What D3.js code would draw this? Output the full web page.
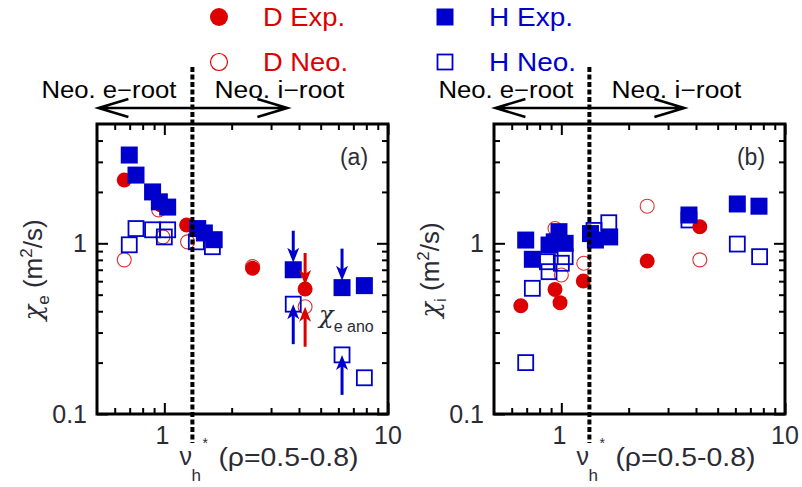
<!DOCTYPE html>
<html>
<head>
<meta charset="utf-8">
<script src="https://cdn.jsdelivr.net/npm/d3@7"></script>
<style>
  body { margin: 0; background: #fff; }
  svg { display: block; font-family: "Liberation Sans", Arial, sans-serif; }
  .chi { font-family: "DejaVu Serif", serif; font-style: italic; }
</style>
</head>
<body>
<svg id="chart" width="802" height="487"></svg>
<script>
// --- data ---
// panel (a): chi_e vs nu_h*
const aDExp = [[0.662, 2.35], [0.966, 1.68], [1.258, 1.28], [2.48, 0.714], [4.26, 0.54]];
const aDNeo = [[0.662, 0.80], [0.943, 1.57], [0.985, 1.09], [1.27, 1.02], [2.48, 0.73], [4.26, 0.425]];
const aHExp = [[0.697, 3.29], [0.747, 2.51], [0.886, 2.0], [0.95, 1.75], [1.035, 1.63], [1.41, 1.22],
  [1.51, 1.15], [1.67, 1.05], [3.77, 0.70], [6.23, 0.55], [7.84, 0.565]];
const aHNeo = [[0.697, 0.98], [0.747, 1.22], [0.886, 1.2], [1.035, 1.2], [1.0, 1.09], [1.39, 1.02],
  [1.64, 0.955], [3.77, 0.44], [6.23, 0.222], [7.84, 0.163]];
// arrows pointing at the anomalous points: [x, y, direction, species]
const aArrows = [[3.77, 0.70, 'down', 'H'], [4.26, 0.54, 'down', 'D'], [6.23, 0.55, 'down', 'H'],
  [3.77, 0.44, 'up', 'H'], [4.26, 0.425, 'up', 'D'], [6.23, 0.222, 'up', 'H']];

// panel (b): chi_i vs nu_h*
const bDExp = [[0.659, 0.431], [0.937, 0.537], [0.987, 0.449], [1.254, 0.601], [2.42, 0.788], [4.16, 1.25]];
const bDNeo = [[0.937, 1.22], [1.0, 0.652], [1.26, 0.764], [2.42, 1.65], [4.16, 0.80]];
const bHExp = [[0.693, 1.045], [0.742, 0.806], [0.881, 0.977], [0.93, 1.02], [0.976, 1.17], [1.04, 1.0],
  [1.35, 1.14], [1.42, 1.045], [1.645, 1.09], [3.72, 1.465], [6.12, 1.70], [7.65, 1.65]];
const bHNeo = [[0.693, 0.2], [0.742, 0.545], [0.866, 0.78], [0.881, 0.682], [1.0, 0.764], [1.04, 0.835],
  [1.40, 1.19], [1.63, 1.32], [3.72, 1.37], [6.12, 0.99], [7.7, 0.835]];

const nuStar = 1.335; // boundary e-root / i-root
const xMajor = [1, 10];
const yMajor = [0.1, 1];
const xMinor = [0.6, 0.7, 0.8, 0.9, 2, 3, 4, 5, 6, 7, 8, 9];
const yMinor = [0.2, 0.3, 0.4, 0.5, 0.6, 0.7, 0.8, 0.9, 2, 3, 4];
const legendLabels = ['D Exp.', 'D Neo.', 'H Exp.', 'H Neo.'];

const RED = '#dd0000';
const BLUE = '#0000cc';
const TXT = '#2b2b35';

const svg = d3.select('#chart');

// Legend
const legendPos = [[219, 17], [219, 62], [445, 17], [445, 62]];
const legendWidths = [82, 85, 84, 87];
legendLabels.forEach((lab, i) => {
  const [cx, cy] = legendPos[i];
  const isD = lab[0] === 'D';
  const filled = lab.includes('Exp');
  const col = isD ? RED : BLUE;
  if (isD) {
    svg.append('circle').attr('cx', cx).attr('cy', cy).attr('r', filled ? 9 : 8.5)
      .attr('fill', filled ? col : 'none').attr('stroke', col).attr('stroke-width', filled ? 0 : 1.2);
  } else {
    const s = filled ? 17 : 15;
    svg.append('rect').attr('x', cx - s / 2).attr('y', cy - s / 2).attr('width', s).attr('height', s)
      .attr('fill', filled ? col : 'none').attr('stroke', col).attr('stroke-width', filled ? 0 : 1.8);
  }
  svg.append('text').attr('x', cx + 44).attr('y', cy + 9).attr('font-size', 25)
    .attr('fill', col).attr('textLength', legendWidths[i]).attr('lengthAdjust', 'spacingAndGlyphs')
    .text(lab);
});

function drawPanel(left, tag, sub, dExp, dNeo, hExp, hNeo, arrows) {
  const x = d3.scaleLog().domain([0.5, 10]).range([left, left + 291]);
  const y = d3.scaleLog().domain([0.1, 5]).range([414, 124]);
  const g = svg.append('g');

  // ticks on all four sides, pointing inward
  const tickSets = [
    [d3.axisBottom(x), `translate(0,414)`, xMinor, xMajor],
    [d3.axisTop(x), `translate(0,124)`, xMinor, xMajor],
    [d3.axisLeft(y), `translate(${left},0)`, yMinor, yMajor],
    [d3.axisRight(y), `translate(${left + 291},0)`, yMinor, yMajor],
  ];
  tickSets.forEach(([ax, tr, minor, major]) => {
    [[minor, 6], [major, 11]].forEach(([vals, len]) => {
      g.append('g').attr('transform', tr)
        .call(ax.tickValues(vals).tickSize(-len).tickFormat(''))
        .call((s) => s.select('.domain').remove())
        .call((s) => s.selectAll('line').attr('stroke', '#000').attr('stroke-width', 2));
    });
  });

  g.append('rect').attr('x', left).attr('y', 124).attr('width', 291).attr('height', 290)
    .attr('fill', 'none').attr('stroke', '#000').attr('stroke-width', 3);

  // tick labels
  xMajor.forEach((v) => {
    g.append('text').attr('x', x(v) - (v === 1 ? 2 : 0)).attr('y', 444).attr('text-anchor', 'middle')
      .attr('font-size', 25).attr('fill', TXT).text(v);
  });
  yMajor.forEach((v) => {
    g.append('text').attr('x', left - 10).attr('y', y(v) + 9).attr('text-anchor', 'end')
      .attr('font-size', 25).attr('fill', TXT).text(v);
  });

  // markers
  const mk = g.append('g');
  mk.selectAll('.dneo').data(dNeo).join('circle')
    .attr('cx', (d) => x(d[0])).attr('cy', (d) => y(d[1])).attr('r', 7)
    .attr('fill', 'none').attr('stroke', '#e03030').attr('stroke-width', 1.1);
  mk.selectAll('.hneo').data(hNeo).join('rect')
    .attr('x', (d) => x(d[0]) - 7.5).attr('y', (d) => y(d[1]) - 7.5).attr('width', 15).attr('height', 15)
    .attr('fill', 'none').attr('stroke', BLUE).attr('stroke-width', 1.8);
  mk.selectAll('.dexp').data(dExp).join('circle')
    .attr('cx', (d) => x(d[0])).attr('cy', (d) => y(d[1])).attr('r', 7.5).attr('fill', RED);
  mk.selectAll('.hexp').data(hExp).join('rect')
    .attr('x', (d) => x(d[0]) - 8.5).attr('y', (d) => y(d[1]) - 8.5).attr('width', 17).attr('height', 17)
    .attr('fill', BLUE);

  // arrows
  arrows.forEach(([xv, yv, dir, sp]) => {
    const col = sp === 'D' ? RED : BLUE;
    const tx = x(xv);
    let tip, s;
    if (dir === 'down') { s = 1; tip = y(yv) - (sp === 'D' ? 4 : 7); }
    else { s = -1; tip = y(yv); }
    const tail = tip - s * (dir === 'down' ? 32 : 40);
    g.append('line').attr('x1', tx).attr('x2', tx).attr('y1', tail).attr('y2', tip - s * 10)
      .attr('stroke', col).attr('stroke-width', 3);
    g.append('path')
      .attr('d', `M${tx},${tip} L${tx - 6},${tip - s * 15} L${tx},${tip - s * 11} L${tx + 6},${tip - s * 15} Z`)
      .attr('fill', col);
  });

  // panel tag
  g.append('text').attr('x', left + 257).attr('y', 165).attr('text-anchor', 'middle')
    .attr('font-size', 23).attr('fill', TXT).text(tag);

  // y title
  const yt = g.append('text').attr('transform', `translate(${left - 55},270) rotate(-90)`)
    .attr('text-anchor', 'middle').attr('font-size', 26).attr('fill', TXT);
  yt.append('tspan').attr('class', 'chi').text('\u03c7');
  yt.append('tspan').attr('font-size', 17).attr('dy', 7).text(sub);
  yt.append('tspan').attr('dy', -7).text(' (m');
  yt.append('tspan').attr('font-size', 17).attr('dy', -10).text('2');
  yt.append('tspan').attr('dy', 10).text('/s)');

  // x title
  const xs = x(nuStar);
  g.append('text').attr('x', xs - 13).attr('y', 465).attr('font-size', 25).attr('fill', TXT).text('\u03bd');
  g.append('text').attr('x', xs - 1).attr('y', 481).attr('font-size', 17).attr('fill', TXT).text('h');
  g.append('text').attr('x', xs + 10).attr('y', 448).attr('font-size', 14).attr('fill', TXT).text('*');
  g.append('text').attr('x', xs + 26).attr('y', 466).attr('font-size', 25).attr('fill', TXT)
    .attr('textLength', 140).attr('lengthAdjust', 'spacingAndGlyphs').text('(\u03c1=0.5-0.8)');

  // regime labels and double arrow
  g.append('text').attr('x', xs - 151).attr('y', 98).attr('font-size', 23).attr('fill', '#000')
    .attr('textLength', 135).attr('lengthAdjust', 'spacingAndGlyphs').text('Neo. e\u2212root');
  g.append('text').attr('x', xs + 22).attr('y', 98).attr('font-size', 23).attr('fill', '#000')
    .attr('textLength', 130).attr('lengthAdjust', 'spacingAndGlyphs').text('Neo. i\u2212root');
  const ax0 = xs - 94, ax1 = xs + 95, ay = 108;
  g.append('path')
    .attr('d', `M${ax0},${ay} L${ax1},${ay} M${ax0 + 30},${ay - 9} L${ax0},${ay} L${ax0 + 30},${ay + 9}` +
      ` M${ax1 - 30},${ay - 9} L${ax1},${ay} L${ax1 - 30},${ay + 9}`)
    .attr('fill', 'none').attr('stroke', '#000').attr('stroke-width', 2.5);

  // boundary dashed line drawn on top
  g.append('line').attr('x1', xs).attr('x2', xs).attr('y1', 67).attr('y2', 443)
    .attr('stroke', '#000').attr('stroke-width', 4).attr('stroke-dasharray', '5,2.5');

  return { x, y, g };
}

const pa = drawPanel(97, '(a)', 'e', aDExp, aDNeo, aHExp, aHNeo, aArrows);
drawPanel(494, '(b)', 'i', bDExp, bDNeo, bHExp, bHNeo, []);

// chi_e ano annotation in panel (a)
const ano = pa.g.append('text').attr('x', pa.x(4.26) + 14).attr('y', pa.y(0.425) + 16)
  .attr('font-size', 24).attr('fill', TXT);
ano.append('tspan').attr('class', 'chi').text('\u03c7');
ano.append('tspan').attr('font-size', 16).attr('dy', 9).text('e ano');
</script>
</body>
</html>
